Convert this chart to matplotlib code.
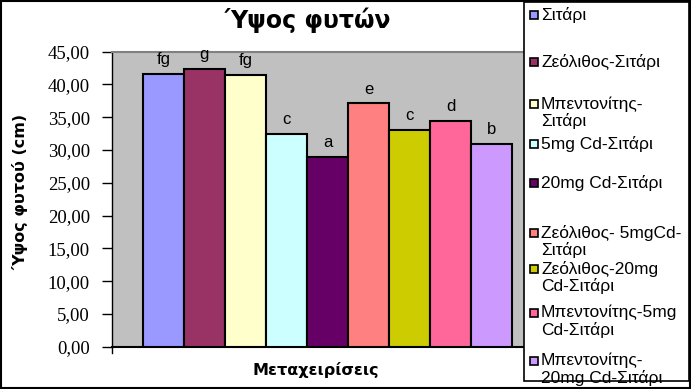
import matplotlib
matplotlib.use("Agg")
import matplotlib.pyplot as plt
from matplotlib.patches import Rectangle
from matplotlib.ticker import FuncFormatter

# ---- data ----
treatments = ["Σιτάρι", "Ζεόλιθος-Σιτάρι", "Μπεντονίτης-\nΣιτάρι", "5mg Cd-Σιτάρι",
              "20mg Cd-Σιτάρι", "Ζεόλιθος- 5mgCd-\nΣιτάρι", "Ζεόλιθος-20mg\nCd-Σιτάρι",
              "Μπεντονίτης-5mg\nCd-Σιτάρι", "Μπεντονίτης-\n20mg Cd-Σιτάρι"]
heights = [41.6, 42.4, 41.5, 32.5, 28.9, 37.1, 33.0, 34.4, 30.9]
letters = ["fg", "g", "fg", "c", "a", "e", "c", "d", "b"]
colors = ["#9999FF", "#993366", "#FFFFCC", "#CCFFFF", "#660066",
          "#FF8080", "#CCCC00", "#FF6699", "#CC99FF"]
yticks = [0, 5, 10, 15, 20, 25, 30, 35, 40, 45]

W, H = 691, 389
fig = plt.figure(figsize=(W / 100, H / 100), dpi=100)
fig.patch.set_facecolor("white")

def fx(px):
    return px / W

def fy(py):
    return 1 - py / H

ax = fig.add_axes([fx(112), fy(346.7), fx(543) - fx(112), fy(51.7) - fy(346.7)])
ax.set_facecolor("#C0C0C0")

xs = list(range(len(heights)))
bars = ax.bar(xs, heights, width=1.0, color=colors, edgecolor="black", linewidth=1.5, zorder=3)
ax.set_xlim(-1.25, len(heights) - 1 + 1.25)
ax.set_ylim(yticks[0], yticks[-1])
ax.set_yticks(yticks)
ax.yaxis.set_major_formatter(FuncFormatter(lambda v, p: f"{v:.2f}".replace(".", ",")))
ax.set_xticks([])

for b, lab in zip(bars, letters):
    ax.annotate(lab, (b.get_x() + b.get_width() / 2, b.get_height()),
                xytext=(0, 5), textcoords="offset points", ha="center", va="bottom",
                fontsize=12, family="Liberation Sans", zorder=5)

ax.spines["right"].set_visible(False)
ax.spines["top"].set_color("#808080")
ax.spines["top"].set_linewidth(1.5)
ax.spines["left"].set_linewidth(1.0)
ax.spines["bottom"].set_linewidth(1.5)
ax.tick_params(axis="y", direction="out", length=7, width=1, pad=9,
               labelsize=13.5, labelfontfamily="Liberation Serif")

# x tick at left bottom corner
ax.plot([0, 0], [0, -0.02], transform=ax.transAxes, color="black", lw=1, clip_on=False)

# titles/labels
fig.text(fx(308), fy(20), "Ύψος φυτών", ha="center", va="center",
         fontsize=17, fontweight="bold", family="DejaVu Sans")
fig.text(fx(20), fy(192), "Ύψος φυτού (cm)", ha="center", va="center", rotation=90,
         fontsize=11.5, fontweight="bold", family="DejaVu Sans")
fig.text(fx(316), fy(370), "Μεταχειρίσεις", ha="center", va="center",
         fontsize=11.5, fontweight="bold", family="DejaVu Sans")

# legend box (drawn manually to match the layout)
lx0, ly0, lx1, ly1 = 524, 2, 689, 381
fig.patches.append(Rectangle((fx(lx0), fy(ly1)), fx(lx1) - fx(lx0), fy(ly0) - fy(ly1),
                             transform=fig.transFigure, facecolor="white",
                             edgecolor="black", linewidth=1.2, zorder=10))
row_y = [15, 62, 104, 144, 183, 233, 269, 313, 361]
for lab, col, yy in zip(treatments, colors, row_y):
    fig.patches.append(Rectangle((fx(530), fy(yy + 4)), fx(8), 8 / H,
                                 transform=fig.transFigure, facecolor=col,
                                 edgecolor="black", linewidth=1.2, zorder=11))
    fig.text(fx(541), fy(yy - 8), lab, ha="left", va="top", fontsize=12.5,
             family="Liberation Sans", linespacing=1.1, zorder=12)

# outer border
fig.patches.append(Rectangle((0.001, 0.002), 0.997, 0.996, transform=fig.transFigure,
                             facecolor="none", edgecolor="black", linewidth=1.5, zorder=20))

fig.savefig("out.png", dpi=100)
